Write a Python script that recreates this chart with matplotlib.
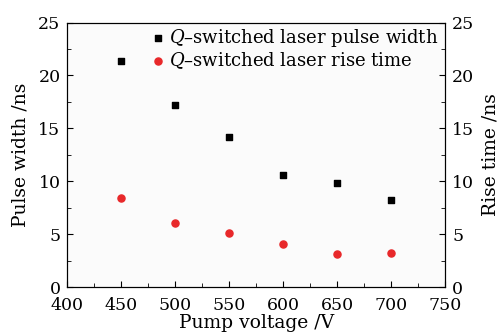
import numpy as np
import matplotlib.pyplot as plt

voltage = [450, 500, 550, 600, 650, 700]
pulse_width = [21.4, 17.2, 14.2, 10.6, 9.8, 8.2]
rise_time = [8.4, 6.1, 5.1, 4.1, 3.1, 3.2]

plt.rcParams['font.family'] = 'DejaVu Serif'
plt.rcParams['mathtext.fontset'] = 'dejavuserif'

fig = plt.figure(figsize=(5.03, 3.32), dpi=100)
fig.patch.set_facecolor('white')
ax = fig.add_axes([0.134, 0.135, 0.751, 0.797])
ax.set_facecolor('#fbfbfb')

ax.scatter(voltage, pulse_width, marker='s', s=22, color='black', label='$Q$–switched laser pulse width')
ax.scatter(voltage, rise_time, marker='o', s=26, color='#e8282a', label='$Q$–switched laser rise time')

ax.set_xlim(400, 750)
ax.set_ylim(0, 25)
ax.set_xticks(np.arange(400, 751, 50))
ax.set_xticks(np.arange(425, 751, 50), minor=True)
ax.set_yticks(np.arange(0, 26, 5))
ax.set_yticks(np.arange(2.5, 25, 5), minor=True)
ax.tick_params(which='both', direction='in', top=False, right=False, labelsize=12.5)
ax.tick_params(axis='x', which='major', pad=7)
ax.tick_params(axis='y', which='major', pad=5)
ax.tick_params(which='major', length=4)
ax.tick_params(which='minor', length=3)
ax.set_xlabel('Pump voltage /V', fontsize=13.5, labelpad=0)
ax.set_ylabel('Pulse width /ns', fontsize=13.5, labelpad=6)

ax2 = ax.twinx()
ax2.set_ylim(0, 25)
ax2.set_yticks(np.arange(0, 26, 5))
ax2.set_yticks(np.arange(2.5, 25, 5), minor=True)
ax2.tick_params(which='both', direction='in', labelsize=12.5)
ax2.tick_params(which='major', length=4, pad=5)
ax2.tick_params(which='minor', length=3)
ax2.set_ylabel('Rise time /ns', fontsize=13.5, labelpad=5)

ax.legend(loc='upper right', frameon=False, fontsize=13, handletextpad=0.1,
          borderaxespad=0.0, labelspacing=0.05, handlelength=1.0,
          bbox_to_anchor=(1.0, 1.01))

fig.savefig('out.png', dpi=100)
